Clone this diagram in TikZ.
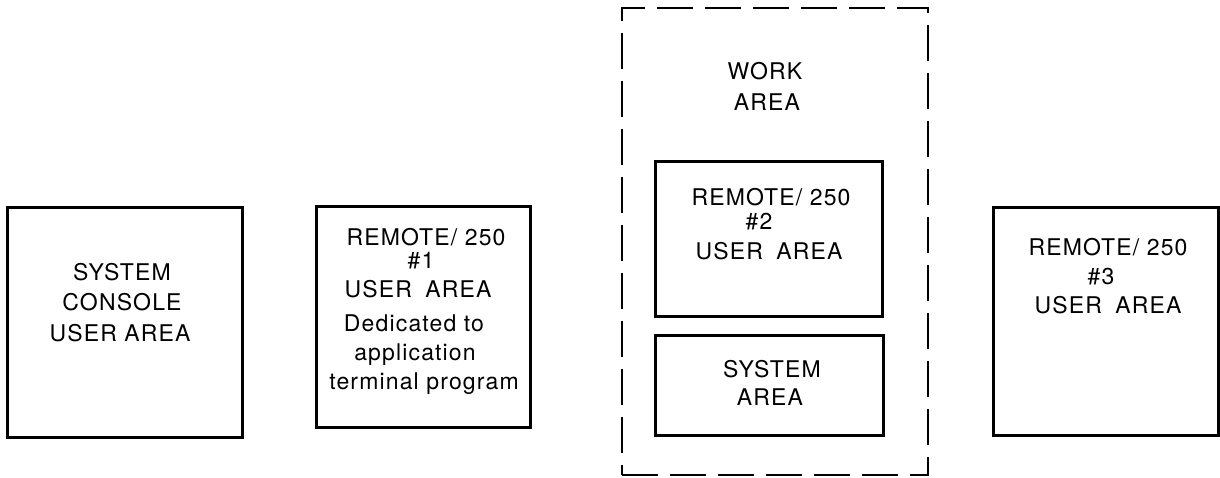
\documentclass[tikz,border=0pt]{standalone}
\usepackage{fontspec}
\setmainfont{TeX Gyre Heros}
\newfontfamily\lblfamily[LetterSpace=5]{TeX Gyre Heros}
\begin{document}
\begin{tikzpicture}[x=1pt,y=-1pt,
  box/.style={draw=black, line width=3pt, rectangle, inner sep=0pt, outer sep=0pt},
  dashbox/.style={draw=black, line width=2.2pt, rectangle, inner sep=0pt, dash pattern=on 36pt off 12pt},
  lbl/.style={anchor=base, inner sep=0pt, font=\lblfamily\fontsize{23}{28}\selectfont}]
\useasboundingbox (0,0) rectangle (1220,478);
% boxes
\node[box, minimum width=235pt, minimum height=229pt] (console) at (124.5,322.5) {};
\node[box, minimum width=214pt, minimum height=220pt] (remA) at (423,317) {};
\node[dashbox, minimum width=306pt, minimum height=467pt] (work) at (775,241.5) {};
\node[box, minimum width=227pt, minimum height=154pt] (remB) at (768.5,239) {};
\node[box, minimum width=228pt, minimum height=100pt] (sys) at (769,385) {};
\node[box, minimum width=225pt, minimum height=227pt] (remC) at (1105.5,321.5) {};
% console text
\node[lbl] (c1) at (122,280) {SYSTEM};
\node[lbl] (c2) at (122,310) {CONSOLE};
\node[lbl] (c3) at (120,341) {USER AREA};
% remote 1 text
\node[lbl] (a1) at (426,246) {REMOTE/ 250};
\node[lbl] (a2) at (421,269) {\#1};
\node[lbl] (a3) at (418,298) {USER\hspace{6pt} AREA};
\node[lbl] (a4) at (414,331) {Dedicated to};
\node[lbl] (a5) at (415,360) {application};
\node[lbl] (a6) at (424,389) {terminal program};
% work area text
\node[lbl] (w1) at (765,80) {WORK};
\node[lbl] (w2) at (767,111) {AREA};
% remote 2 text
\node[lbl] (b1) at (771,206) {REMOTE/ 250};
\node[lbl] (b2) at (759,230) {\#2};
\node[lbl] (b3) at (769,260) {USER\hspace{6pt} AREA};
% system area text
\node[lbl] (s1) at (772,377) {SYSTEM};
\node[lbl] (s2) at (770,405) {AREA};
% remote 3 text
\node[lbl] (r1) at (1108,255) {REMOTE/ 250};
\node[lbl] (r2) at (1101,284) {\#3};
\node[lbl] (r3) at (1108,313) {USER\hspace{6pt} AREA};
\end{tikzpicture}
\end{document}
